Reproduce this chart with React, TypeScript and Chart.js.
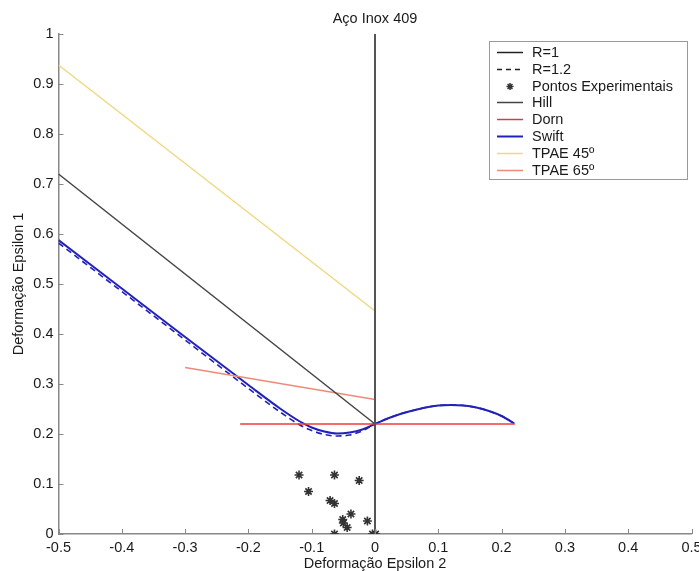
import React, { useEffect, useRef } from "react";
import { Chart, registerables } from "chart.js";

Chart.register(...registerables);

// ---- data ----
const xTicks = [-0.5, -0.4, -0.3, -0.2, -0.1, 0, 0.1, 0.2, 0.3, 0.4, 0.5];
const yTicks = [0, 0.1, 0.2, 0.3, 0.4, 0.5, 0.6, 0.7, 0.8, 0.9, 1];

const swiftX = [-0.5, -0.4, -0.3, -0.2, -0.15, -0.12, -0.1, -0.08, -0.06, -0.04, -0.02, 0, 0.02, 0.04, 0.06, 0.08, 0.1, 0.12, 0.14, 0.16, 0.18, 0.2, 0.22];
const swiftR1 = [0.588, 0.491, 0.394, 0.298, 0.251, 0.226, 0.213, 0.205, 0.201, 0.203, 0.209, 0.22, 0.231, 0.24, 0.247, 0.253, 0.257, 0.258, 0.257, 0.253, 0.246, 0.236, 0.221];
const swiftR12 = [0.582, 0.485, 0.388, 0.291, 0.244, 0.219, 0.207, 0.199, 0.196, 0.198, 0.206, 0.22, 0.231, 0.24, 0.247, 0.253, 0.257, 0.258, 0.257, 0.253, 0.246, 0.236, 0.221];

const hillX = [-0.5, 0];
const hillY = [0.72, 0.22];

const dornX = [-0.213, 0.221];
const dornY = [0.22, 0.22];

const tpae45X = [-0.5, 0];
const tpae45Y = [0.938, 0.446];

const tpae65X = [-0.3, 0];
const tpae65Y = [0.333, 0.269];

const expX = [-0.12, -0.064, -0.025, -0.105, -0.071, -0.064, -0.038, -0.051, -0.05, -0.044, -0.012, -0.064, -0.004, 0.001];
const expY = [0.118, 0.118, 0.107, 0.085, 0.067, 0.061, 0.04, 0.029, 0.022, 0.013, 0.026, 0, 0, 0];

const zeroX = [0, 0];
const zeroY = [0, 1];

const legendLabels = ["R=1", "R=1.2", "Pontos Experimentais", "Hill", "Dorn", "Swift", "TPAE 45º", "TPAE 65º"];

const FONT = "'Liberation Sans', Arial, sans-serif";
const BLUE = "#2222b8";
const RED = "#f03a3a";
const DORN_LEG = "#c04455";
const YELLOW = "#f0d880";
const SALMON = "#f08a78";
const HILL = "#444444";

const pts = (xs: number[], ys: number[]) => xs.map((x, i) => ({ x, y: ys[i] }));

const overlayPlugin = {
  id: "overlay",
  afterDraw(chart: any) {
    const { ctx, chartArea, scales } = chart;
    const xs = scales.x;
    const ys = scales.y;
    ctx.save();
    // inward ticks
    ctx.strokeStyle = "#888";
    ctx.lineWidth = 1;
    ctx.beginPath();
    xTicks.forEach((v) => {
      const px = Math.round(xs.getPixelForValue(v)) + 0.5;
      ctx.moveTo(px, chartArea.bottom);
      ctx.lineTo(px, chartArea.bottom - 5);
    });
    yTicks.forEach((v) => {
      const py = Math.round(ys.getPixelForValue(v)) + 0.5;
      ctx.moveTo(chartArea.left, py);
      ctx.lineTo(chartArea.left + 5, py);
    });
    ctx.stroke();

    // legend box
    const bx = 489, by = 41, bw = 198, bh = 138;
    ctx.fillStyle = "#fff";
    ctx.fillRect(bx, by, bw, bh);
    ctx.strokeStyle = "#9a9a9a";
    ctx.lineWidth = 1;
    ctx.strokeRect(bx + 0.5, by + 0.5, bw, bh);

    const rowY0 = 52;
    const rowH = 16.8;
    const sx0 = 497, sx1 = 523, tx = 532;
    ctx.font = `14.5px ${FONT}`;
    ctx.textBaseline = "middle";
    ctx.textAlign = "left";
    legendLabels.forEach((label, i) => {
      const y = Math.round(rowY0 + i * rowH) + 0.5;
      ctx.setLineDash([]);
      ctx.lineWidth = 1.5;
      if (i === 2) {
        const cx = (sx0 + sx1) / 2;
        const r = 3.5;
        ctx.strokeStyle = "#333";
        ctx.beginPath();
        ctx.moveTo(cx - r, y); ctx.lineTo(cx + r, y);
        ctx.moveTo(cx, y - r); ctx.lineTo(cx, y + r);
        ctx.moveTo(cx - r * 0.7, y - r * 0.7); ctx.lineTo(cx + r * 0.7, y + r * 0.7);
        ctx.moveTo(cx - r * 0.7, y + r * 0.7); ctx.lineTo(cx + r * 0.7, y - r * 0.7);
        ctx.stroke();
      } else {
        let color = "#222";
        if (i === 1) ctx.setLineDash([5, 4]);
        if (i === 3) color = HILL;
        if (i === 4) color = DORN_LEG;
        if (i === 5) { color = BLUE; ctx.lineWidth = 2; }
        if (i === 6) color = YELLOW;
        if (i === 7) color = SALMON;
        ctx.strokeStyle = color;
        ctx.beginPath();
        ctx.moveTo(sx0, y);
        ctx.lineTo(sx1, y);
        ctx.stroke();
      }
      ctx.setLineDash([]);
      ctx.fillStyle = "#1a1a1a";
      ctx.fillText(label, tx, y + 0.5);
    });
    ctx.restore();
  },
};

const fmt = (v: any) => String(Math.round(Number(v) * 10) / 10);

export default function App() {
  const ref = useRef<HTMLCanvasElement | null>(null);

  useEffect(() => {
    if (!ref.current) return;
    const line = (data: any, color: string, width: number, extra: any = {}) => ({
      data,
      showLine: true,
      borderColor: color,
      backgroundColor: color,
      borderWidth: width,
      pointRadius: 0,
      fill: false,
      ...extra,
    });
    const chart = new Chart(ref.current, {
      type: "scatter",
      data: {
        datasets: [
          line(pts(zeroX, zeroY), "#555", 2),
          line(pts(tpae45X, tpae45Y), YELLOW, 1.5),
          line(pts(hillX, hillY), HILL, 1.5),
          line(pts(tpae65X, tpae65Y), SALMON, 1.5),
          line(pts(dornX, dornY), RED, 1.5),
          line(pts(swiftX, swiftR12), BLUE, 1.6, { borderDash: [6, 4], cubicInterpolationMode: "monotone" }),
          line(pts(swiftX, swiftR1), BLUE, 2, { cubicInterpolationMode: "monotone" }),
          {
            data: pts(expX, expY),
            showLine: false,
            pointStyle: "star",
            pointRadius: 4.5,
            borderColor: "#333",
            backgroundColor: "#333",
            pointBorderWidth: 1.6,
            borderWidth: 1.6,
          },
        ],
      },
      options: {
        responsive: false,
        animation: false,
        events: [],
        layout: { padding: { left: 0, right: 7.5, top: 0, bottom: 0 } },
        plugins: {
          legend: { display: false },
          tooltip: { enabled: false },
          title: {
            display: true,
            text: "Aço Inox 409",
            fullSize: false,
            color: "#1a1a1a",
            font: { family: FONT, size: 14.5, weight: "normal", lineHeight: 1.2 },
            padding: { top: 10, bottom: 6.6 },
          },
        },
        scales: {
          x: {
            type: "linear",
            min: -0.5,
            max: 0.5,
            grid: { display: false, drawTicks: false },
            border: { display: true, color: "#888", width: 1.5 },
            ticks: {
              stepSize: 0.1,
              autoSkip: false,
              maxRotation: 0,
              padding: 5,
              color: "#1a1a1a",
              font: { family: FONT, size: 14.5 },
              callback: fmt,
            },
            title: {
              display: true,
              text: "Deformação Epsilon 2",
              color: "#1a1a1a",
              font: { family: FONT, size: 14.5, lineHeight: 1 },
              padding: { top: 0, bottom: 0 },
            },
            afterFit: (s: any) => {
              s.height = 37;
              s.paddingLeft = 0;
              s.paddingRight = 0;
            },
          },
          y: {
            type: "linear",
            min: 0,
            max: 1,
            grid: { display: false, drawTicks: false },
            border: { display: true, color: "#888", width: 1.5 },
            ticks: {
              stepSize: 0.1,
              autoSkip: false,
              padding: 5,
              color: "#1a1a1a",
              font: { family: FONT, size: 14.5 },
              callback: fmt,
            },
            title: {
              display: true,
              text: "Deformação Epsilon 1",
              color: "#1a1a1a",
              font: { family: FONT, size: 14.5, lineHeight: 1 },
              padding: { top: 12, bottom: 0 },
            },
            afterFit: (s: any) => {
              s.width = 58.5;
              s.paddingTop = 0;
              s.paddingBottom = 0;
            },
          },
        },
      },
      plugins: [overlayPlugin],
    } as any);
    return () => chart.destroy();
  }, []);

  return (
    <div style={{ position: "absolute", left: 0, top: 0, width: 699, height: 571, background: "#fff" }}>
      <canvas ref={ref} width={699} height={571} style={{ display: "block", width: 699, height: 571 }} />
    </div>
  );
}
